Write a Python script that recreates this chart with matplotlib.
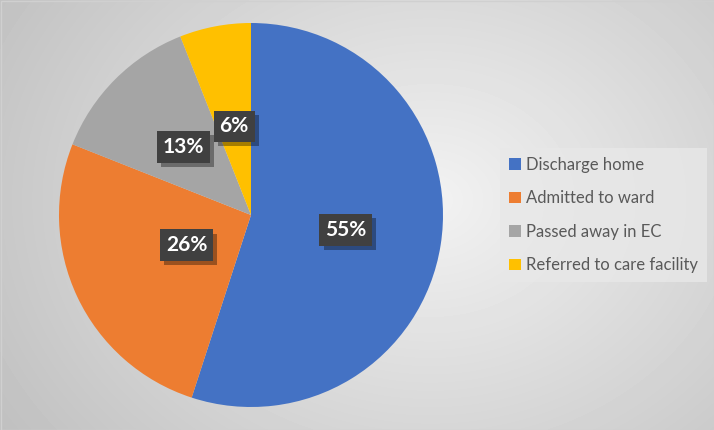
import numpy as np
from matplotlib import pyplot as plt
from matplotlib import patheffects as pe

# Dados do gráfico
categories = ["Discharge home", "Admitted to ward", "Passed away in EC", "Referred to care facility"]
values = [55, 26, 13, 6]
colors = ["#4472C4", "#ED7D31", "#A5A5A5", "#FFC000"]
label_dist = [0.5, 0.37, 0.5, 0.47]

fig = plt.figure(figsize=(7.14, 4.30), dpi=100)

# Fundo com gradiente radial
bg = fig.add_axes([0, 0, 1, 1])
yy, xx = np.mgrid[0:430, 0:714]
d = np.sqrt(((xx - 430) / 520.0) ** 2 + ((yy - 200) / 420.0) ** 2)
shade = 0.95 - 0.2 * np.clip(d, 0, 1.2)
bg.imshow(shade, cmap="gray", vmin=0, vmax=1, aspect="auto", extent=[0, 714, 430, 0])
bg.set_xlim(0, 714)
bg.set_ylim(430, 0)
bg.axis("off")
bg.add_patch(plt.Rectangle((0.5, 0.5), 713, 429, fill=False, edgecolor="#d0d0d0", lw=1))

# Pizza
ax = fig.add_axes([59 / 714, (430 - 407) / 430, 384 / 714, 384 / 430])
wedges, _ = ax.pie(values, colors=colors, startangle=90, counterclock=False,
                   wedgeprops=dict(linewidth=0))
ax.set_xlim(-1, 1)
ax.set_ylim(-1, 1)
ax.set_aspect("equal")

for w, v, r in zip(wedges, values, label_dist):
    ang = np.deg2rad((w.theta1 + w.theta2) / 2)
    t = ax.text(r * np.cos(ang), r * np.sin(ang), f"{v}%", ha="center", va="center",
                color="white", fontsize=15, fontweight="bold", family="Lato",
                bbox=dict(boxstyle="square,pad=0.28", facecolor="#404040", edgecolor="none"))
    t.get_bbox_patch().set_path_effects([
        pe.withSimplePatchShadow(offset=(3, -3), shadow_rgbFace="black", alpha=0.35),
        pe.Normal()])

# Legenda
leg = fig.legend(wedges, categories, loc="center left", bbox_to_anchor=(500 / 714, 1 - 215 / 430),
                 borderaxespad=0, frameon=True, fancybox=False, facecolor="#e8e8e8",
                 edgecolor="none", framealpha=0.8, handlelength=0.7, handleheight=0.7,
                 handletextpad=0.3, labelspacing=1.05, borderpad=0.55,
                 prop={"family": "Lato", "size": 12})
for txt in leg.get_texts():
    txt.set_color("#595959")

plt.savefig("out.png", dpi=100)
